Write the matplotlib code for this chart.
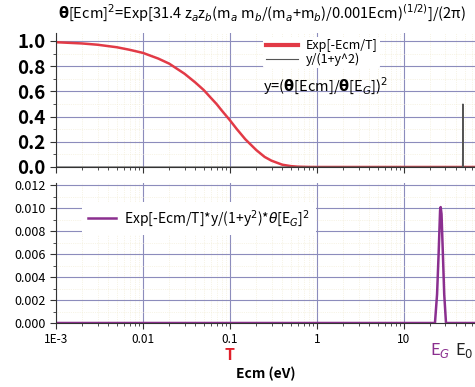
import matplotlib
matplotlib.use("Agg")
import matplotlib.pyplot as plt
from matplotlib.ticker import FixedLocator, MultipleLocator, LogLocator, NullFormatter, FixedFormatter

plt.rcParams['font.family'] = ['Noto Sans CJK SC', 'DejaVu Sans']
plt.rcParams['mathtext.fontset'] = 'dejavusans'

# ---- data ----
ecm_boltz = [0.001, 0.002, 0.003, 0.005, 0.007, 0.01, 0.015, 0.02, 0.03, 0.04, 0.05,
             0.06, 0.07, 0.08, 0.1, 0.12, 0.15, 0.2, 0.25, 0.3, 0.4, 0.5, 0.6, 0.8,
             1.0, 2.0, 5.0, 10.0, 20.0, 65.0]
boltz = [0.99, 0.98, 0.97, 0.95, 0.93, 0.905, 0.86, 0.82, 0.74, 0.67, 0.61,
         0.55, 0.50, 0.45, 0.37, 0.30, 0.22, 0.135, 0.08, 0.05, 0.018, 0.007, 0.0025, 0.0003,
         0.0, 0.0, 0.0, 0.0, 0.0, 0.0]

ecm_res = [0.001, 47.0, 47.6, 48.2, 65.0]
res = [0.0, 0.0, 0.5, 0.0, 0.0]

ecm_prod = [0.001, 1.0, 10.0, 22.7, 24.0, 25.0, 26.0, 26.4, 27.0, 28.0, 29.0, 30.4, 40.0, 65.0]
prod = [0.0, 0.0, 0.0, 0.0, 0.0025, 0.006, 0.0098, 0.0101, 0.0095, 0.006, 0.0025, 0.0, 0.0, 0.0]

x_ticks = [0.001, 0.01, 0.1, 1, 10]
x_labels = ["1E-3", "0.01", "0.1", "1", "10"]
top_yticks = [0.0, 0.2, 0.4, 0.6, 0.8, 1.0]
top_ylabels = ["0.0", "0.2", "0.4", "0.6", "0.8", "1.0"]
bot_yticks = [0.000, 0.002, 0.004, 0.006, 0.008, 0.010, 0.012]
bot_ylabels = ["0.000", "0.002", "0.004", "0.006", "0.008", "0.010", "0.012"]

# ---- figure ----
fig = plt.figure(figsize=(4.75, 3.87), dpi=100)
W, H = 475.0, 387.0
ax1 = fig.add_axes([56 / W, 1 - 167 / H, 1 - 56 / W, (167 - 33) / H])
ax2 = fig.add_axes([56 / W, 1 - 323 / H, 1 - 56 / W, (323 - 183) / H])

major_grid = dict(color='#8c8cbc', lw=0.8)
minor_grid = dict(color='#f0ead0', lw=0.5, ls=':')

for ax in (ax1, ax2):
    ax.set_xscale('log')
    ax.set_xlim(0.001, 65.5)
    ax.xaxis.set_major_locator(FixedLocator(x_ticks))
    ax.xaxis.set_minor_locator(LogLocator(base=10, subs=range(2, 10)))
    ax.xaxis.set_minor_formatter(NullFormatter())
    ax.grid(True, which='minor', **minor_grid)
    ax.grid(True, which='major', **major_grid)
    ax.set_axisbelow(True)
    for s in ('right', 'top'):
        ax.spines[s].set_visible(False)
    ax.spines['left'].set_color('#333333')
    ax.spines['bottom'].set_color('#333333')
    ax.tick_params(which='major', direction='out', length=4, color='#333333')
    ax.tick_params(which='minor', direction='out', length=2.5, color='#333333')

# top panel
ax1.plot(ecm_boltz, boltz, color='#e23a46', lw=1.8, label='Exp[-Ecm/T]')
ax1.plot(ecm_res, res, color='#555555', lw=0.8, label='y/(1+y^2)')
ax1.set_ylim(0, 1.063)
ax1.yaxis.set_major_locator(FixedLocator(top_yticks))
ax1.yaxis.set_major_formatter(FixedFormatter(top_ylabels))
ax1.yaxis.set_minor_locator(MultipleLocator(0.1))
ax1.tick_params(axis='y', labelsize=13.5)
for t in ax1.get_yticklabels():
    t.set_fontweight('bold')
ax1.tick_params(axis='x', labelbottom=False)
leg1 = ax1.legend(loc='upper left', bbox_to_anchor=(0.48, 1.02), frameon=True,
                  fontsize=9, handlelength=2.6, borderpad=0.2, labelspacing=0.05,
                  handletextpad=0.6)
leg1.get_frame().set_edgecolor('none')
leg1.get_frame().set_facecolor('white')
leg1.get_frame().set_alpha(1)
leg1.get_lines()[0].set_linewidth(3)
ax1.text(0.494, 0.61, r"y=($\mathbf{\theta}$[Ecm]/$\mathbf{\theta}$[E$_G$])$^2$",
         transform=ax1.transAxes, fontsize=10.5, va='center', ha='left')

# bottom panel
ax2.plot(ecm_prod, prod, color='#8b2f8f', lw=1.8,
         label=r"Exp[-Ecm/T]*y/(1+y$^2$)*$\theta$[E$_G$]$^2$")
ax2.set_ylim(0, 0.0122)
ax2.yaxis.set_major_locator(FixedLocator(bot_yticks))
ax2.yaxis.set_major_formatter(FixedFormatter(bot_ylabels))
ax2.yaxis.set_minor_locator(MultipleLocator(0.001))
ax2.xaxis.set_major_formatter(FixedFormatter(x_labels))
ax2.tick_params(axis='y', labelsize=9)
ax2.tick_params(axis='x', labelsize=8.5)
leg2 = ax2.legend(loc='upper left', bbox_to_anchor=(0.045, 0.915), frameon=True,
                  fontsize=10, handlelength=2.0, borderpad=0.45, handletextpad=0.6)
leg2.get_frame().set_edgecolor('none')
leg2.get_frame().set_facecolor('white')
leg2.get_frame().set_alpha(1)

# annotations under the x axis
ax2.annotate('T', xy=(0.1, 0), xycoords=('data', 'axes fraction'), xytext=(0, -23),
             textcoords='offset points', ha='center', va='center', color='#e0202a',
             fontsize=11.5, fontweight='bold')
ax2.annotate(r'E$_G$', xy=(26.4, 0), xycoords=('data', 'axes fraction'), xytext=(0, -20),
             textcoords='offset points', ha='center', va='center', color='#8b2f8f',
             fontsize=12)
ax2.annotate(r'E$_0$', xy=(65.5, 0), xycoords=('data', 'axes fraction'), xytext=(-1, -20),
             textcoords='offset points', ha='right', va='center', color='#222222',
             fontsize=12, annotation_clip=False)
ax2.set_xlabel('Ecm (eV)', fontsize=10, fontweight='bold', labelpad=15)

fig.text(262 / W, 1 - 13 / H,
         r"$\mathbf{\theta}$[Ecm]$^2$=Exp[31.4 z$_a$z$_b$(m$_a$ m$_b$/(m$_a$+m$_b$)/0.001Ecm)$^{(1/2)}$]/(2π)",
         ha='center', va='center', fontsize=10.5)

fig.savefig('out.png', dpi=100)
